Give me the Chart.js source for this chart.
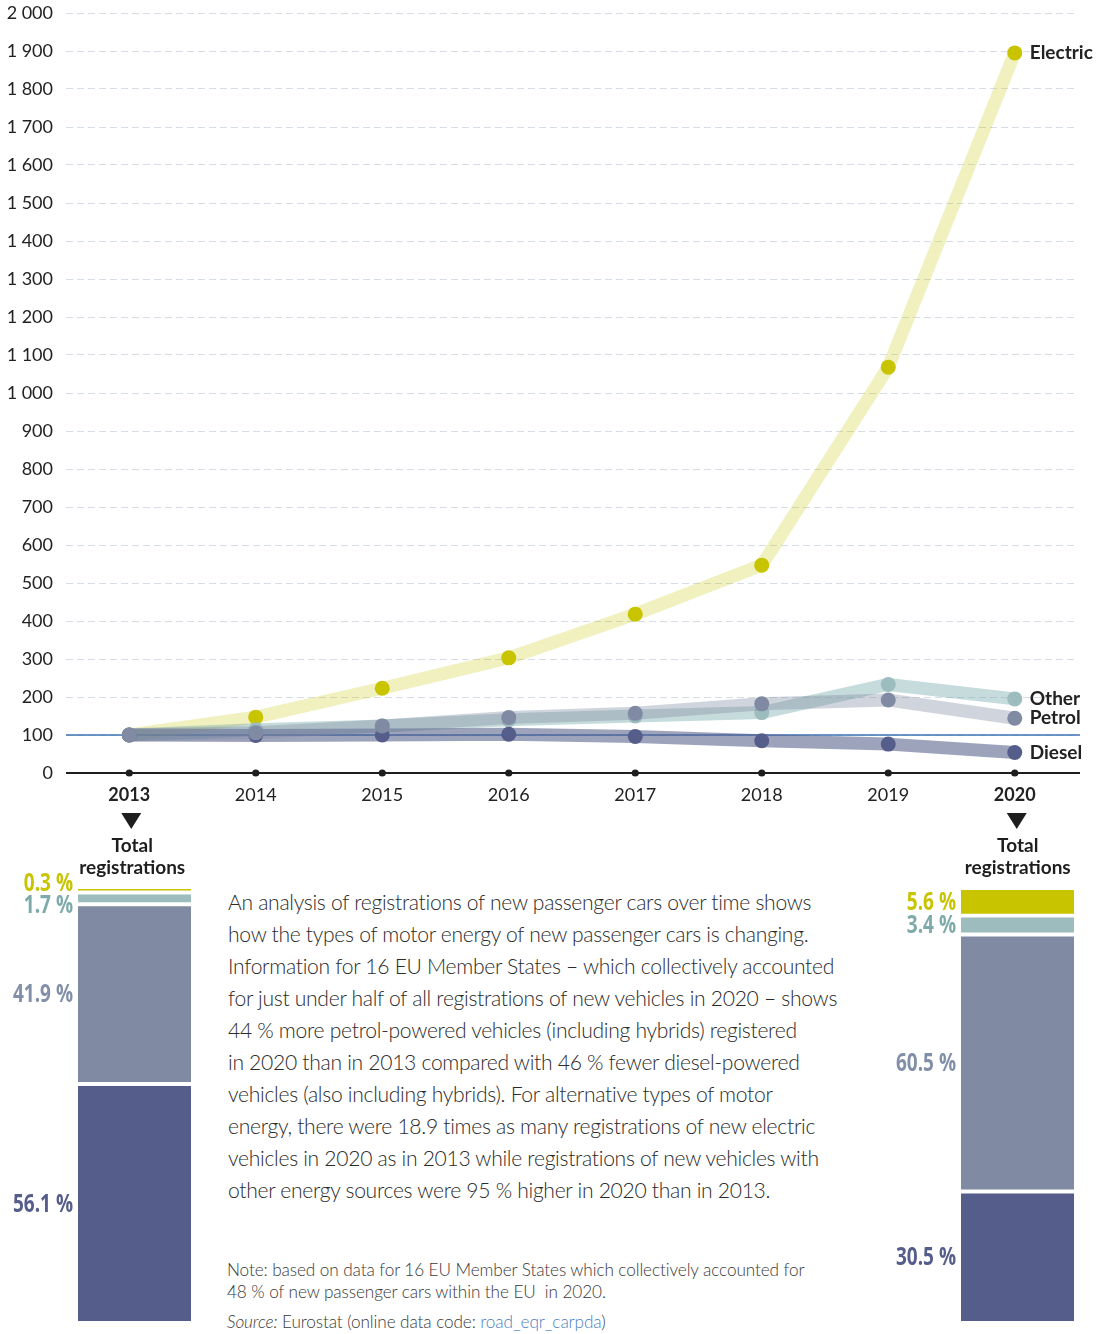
<!DOCTYPE html>
<html>
<head>
<meta charset="utf-8">
<script src="https://cdn.jsdelivr.net/npm/chart.js@4.4.1/dist/chart.umd.min.js"></script>
<style>
    body { margin: 0; background: #fff; }
    #wrap { position: relative; width: 1104px; height: 1334px; overflow: hidden; font-family: Lato, 'Open Sans', sans-serif; }
    #mainBox { position: absolute; left: 0; top: 0; width: 1104px; height: 880px; }
    #leftBox { position: absolute; left: 0; top: 860px; width: 200px; height: 474px; }
    #rightBox { position: absolute; left: 880px; top: 860px; width: 224px; height: 474px; }
    #story { position: absolute; left: 228px; top: 886px; font-size: 21.1px; font-weight: 300; line-height: 32px; color: #2b2b2b; white-space: nowrap; letter-spacing: -0.3px; }
    #note { position: absolute; left: 227px; top: 1259px; font-size: 17.2px; line-height: 22px; color: #3a3a3a; white-space: nowrap; font-weight: 300; letter-spacing: -0.1px; }
    #note .src { margin-top: 8px; }
    #note a { color: #4a80c4; text-decoration: none; }
</style>
</head>
<body>
<div id="wrap">
    <div id="mainBox"><canvas id="mainChart"></canvas></div>
    <div id="leftBox"><canvas id="leftBar"></canvas></div>
    <div id="rightBox"><canvas id="rightBar"></canvas></div>
    <div id="story">
        An analysis of registrations of new passenger cars over time shows<br>
        how the types of motor energy of new passenger cars is changing.<br>
        Information for 16 EU Member States – which collectively accounted<br>
        for just under half of all registrations of new vehicles in 2020 – shows<br>
        44 % more petrol-powered vehicles (including hybrids) registered<br>
        in 2020 than in 2013 compared with 46 % fewer diesel-powered<br>
        vehicles (also including hybrids). For alternative types of motor<br>
        energy, there were 18.9 times as many registrations of new electric<br>
        vehicles in 2020 as in 2013 while registrations of new vehicles with<br>
        other energy sources were 95 % higher in 2020 than in 2013.
    </div>
    <div id="note">
        <div>Note: based on data for 16 EU Member States which collectively accounted for<br>48 % of new passenger cars within the EU&nbsp; in 2020.</div>
        <div class="src"><i>Source:</i> Eurostat (online data code: <a>road_eqr_carpda</a>)</div>
    </div>
</div>
<script>
// --- DATA (index, 2013 = 100) ---
const years = ['2013', '2014', '2015', '2016', '2017', '2018', '2019', '2020'];
const electric = [100, 147, 223, 303, 418, 547, 1068, 1895];
const other = [100, 114, 124, 140, 150, 159, 233, 195];
const petrol = [100, 106, 124, 146, 157, 182, 192, 144];
const diesel = [100, 99, 100, 102, 96, 85, 76, 54];

// share of total registrations (%), order: diesel, petrol, other, electric
const shareNames = ['Diesel', 'Petrol', 'Other', 'Electric'];
const share2013 = [56.1, 41.9, 1.7, 0.3];
const share2020 = [30.5, 60.5, 3.4, 5.6];

const FONT = "Lato, 'Open Sans', sans-serif";

// colours: point, band, label
const COL = {
    Electric: { pt: '#c8c400', band: 'rgba(200,196,0,0.25)', label: '#c8c400' },
    Other:    { pt: '#9cbcbd', band: 'rgba(120,170,170,0.42)', label: '#7eaaa9' },
    Petrol:   { pt: '#808ba3', band: 'rgba(128,139,163,0.37)', label: '#8190a8' },
    Diesel:   { pt: '#555d8a', band: 'rgba(85,93,138,0.57)', label: '#555d8a' }
};

function lineSet(name, data, order) {
    return {
        label: name,
        data: data,
        borderColor: COL[name].band,
        backgroundColor: COL[name].pt,
        pointBackgroundColor: COL[name].pt,
        pointBorderWidth: 0,
        pointRadius: 7.5,
        borderWidth: 13,
        borderJoinStyle: 'round',
        borderCapStyle: 'round',
        tension: 0,
        fill: false,
        order: order,
        clip: false
    };
}

// --- MAIN LINE CHART EXTRAS ---
const mainExtras = {
    id: 'mainExtras',
    beforeDatasetsDraw(chart) {
        const { ctx, chartArea, scales } = chart;
        const y100 = scales.y.getPixelForValue(100);
        ctx.save();
        ctx.strokeStyle = '#3d70b3';
        ctx.lineWidth = 1.5;
        ctx.beginPath();
        ctx.moveTo(chartArea.left, y100);
        ctx.lineTo(chartArea.right + 2, y100);
        ctx.stroke();
        ctx.restore();
    },
    afterDraw(chart) {
        const { ctx, chartArea, scales } = chart;
        const x = scales.x;
        ctx.save();
        // x axis line + dots
        ctx.strokeStyle = '#1e1e1e';
        ctx.lineWidth = 2;
        ctx.beginPath();
        ctx.moveTo(chartArea.left, chartArea.bottom);
        ctx.lineTo(chartArea.right + 2, chartArea.bottom);
        ctx.stroke();
        ctx.fillStyle = '#1e1e1e';
        years.forEach((yr, i) => {
            ctx.beginPath();
            ctx.arc(x.getPixelForValue(i), chartArea.bottom, 3.6, 0, Math.PI * 2);
            ctx.fill();
        });

        // series names at the last point
        ctx.font = `bold 19px ${FONT}`;
        ctx.textAlign = 'left';
        ctx.textBaseline = 'middle';
        ctx.fillStyle = '#222';
        chart.data.datasets.forEach((ds, i) => {
            const meta = chart.getDatasetMeta(i);
            const pt = meta.data[meta.data.length - 1];
            ctx.fillText(ds.label, pt.x + 15, pt.y);
        });

        // "Total registrations" markers under first and last year
        [0, years.length - 1].forEach(i => {
            const cx = x.getPixelForValue(i) + 2;
            ctx.fillStyle = '#1e1e1e';
            ctx.beginPath();
            ctx.moveTo(cx - 10, 813);
            ctx.lineTo(cx + 10, 813);
            ctx.lineTo(cx, 829);
            ctx.closePath();
            ctx.fill();
            ctx.font = `bold 19px ${FONT}`;
            ctx.textAlign = 'center';
            ctx.fillText('Total', cx + 1, 846);
            ctx.fillText('registrations', cx + 1, 868);
        });
        ctx.restore();
    }
};

new Chart(document.getElementById('mainChart'), {
    type: 'line',
    data: {
        labels: years,
        datasets: [
            lineSet('Electric', electric, 3),
            lineSet('Other', other, 2),
            lineSet('Petrol', petrol, 0),
            lineSet('Diesel', diesel, 1)
        ]
    },
    options: {
        responsive: true,
        maintainAspectRatio: false,
        animation: false,
        events: [],
        layout: { padding: { top: 13, right: 26, left: 0, bottom: 0 } },
        plugins: { legend: { display: false }, tooltip: { enabled: false } },
        scales: {
            x: {
                offset: true,
                grid: { display: false, drawTicks: false },
                border: { display: false },
                afterFit(scale) { scale.height = 107; },
                ticks: {
                    padding: 11,
                    color: '#222',
                    font: (c) => ({
                        family: FONT,
                        size: 18,
                        weight: (c.index === 0 || c.index === years.length - 1) ? 'bold' : 'normal'
                    })
                }
            },
            y: {
                min: 0,
                max: 2000,
                afterFit(scale) {
                    scale.width = 66;
                    scale.paddingTop = 0;
                    scale.paddingBottom = 0;
                },
                grid: {
                    color: '#d6dde6',
                    lineWidth: 1,
                    drawTicks: false
                },
                border: { display: false, dash: [7, 4] },
                ticks: {
                    stepSize: 100,
                    padding: 13,
                    color: '#222',
                    font: { family: FONT, size: 18 },
                    callback: (v) => String(v).replace(/\B(?=(\d{3})+(?!\d))/g, ' ')
                }
            }
        }
    },
    plugins: [mainExtras]
});

// --- SHARE BARS ---
const GAP = 1.1; // white gap between segments, in % units

function shareChart(canvasId, shares, padding) {
    let start = 0;
    const datasets = shares.map((v, i) => {
        const seg = [start, start + v];
        start += v + GAP;
        const name = shareNames[i];
        return {
            label: name,
            data: [seg],
            backgroundColor: COL[name].pt,
            barPercentage: 1,
            categoryPercentage: 1,
            grouped: false,
            minBarLength: 2.5,
            borderWidth: 0
        };
    });
    const labelPlugin = {
        id: 'shareLabels',
        afterDatasetsDraw(chart) {
            const { ctx, chartArea } = chart;
            // label positions from top to bottom, nudged apart if they collide
            const items = chart.data.datasets.map((ds, i) => {
                const el = chart.getDatasetMeta(i).data[0];
                return { name: ds.label, val: shares[i], y: (el.y + el.base) / 2 };
            }).sort((a, b) => a.y - b.y);
            for (let i = 1; i < items.length; i++) {
                if (items[i].y - items[i - 1].y < 22) {
                    const mid = (items[i].y + items[i - 1].y) / 2;
                    items[i - 1].y = mid - 11;
                    items[i].y = mid + 11;
                }
            }
            ctx.save();
            // condensed look: squeeze a bold face horizontally
            const sx = 0.76;
            ctx.scale(sx, 1);
            ctx.font = `bold 25px 'Open Sans', ${FONT}`;
            ctx.textAlign = 'right';
            ctx.textBaseline = 'middle';
            items.forEach(it => {
                ctx.fillStyle = COL[it.name].label;
                ctx.fillText(it.val.toFixed(1) + ' %', (chartArea.left - 5) / sx, it.y + 1);
            });
            ctx.restore();
        }
    };
    new Chart(document.getElementById(canvasId), {
        type: 'bar',
        data: { labels: ['total'], datasets: datasets },
        options: {
            responsive: true,
            maintainAspectRatio: false,
            animation: false,
            events: [],
            layout: { padding: padding },
            plugins: { legend: { display: false }, tooltip: { enabled: false } },
            scales: {
                x: { display: false },
                y: { display: false, min: 0, max: 100 + GAP * (shares.length - 1) }
            }
        },
        plugins: [labelPlugin]
    });
}

shareChart('leftBar', share2013, { left: 78, right: 9, top: 29, bottom: 13 });
shareChart('rightBar', share2020, { left: 81, right: 30, top: 30, bottom: 13 });
</script>
</body>
</html>
